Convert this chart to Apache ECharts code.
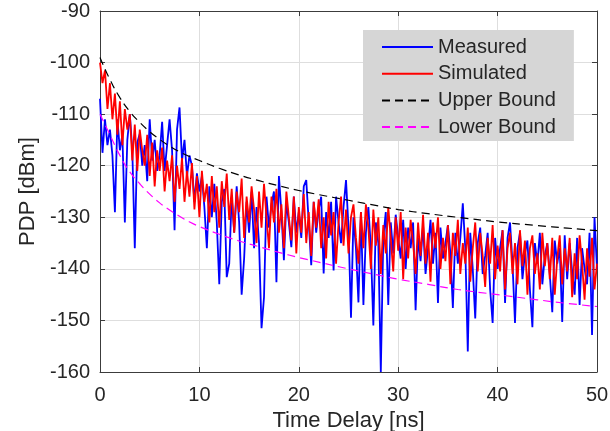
<!DOCTYPE html>
<html><head><meta charset="utf-8">
<script src="https://cdn.jsdelivr.net/npm/echarts@6/dist/echarts.min.js"></script>
<style>html,body{margin:0;padding:0;background:#fff}#c{width:610px;height:431px}</style>
</head><body><div id="c"></div>
<script>
// sampling step of the delay axis (ns)
const DT = 0.25;

const measured = [
-107,-117.5,-111,-116, -113,-118,-129,-111, -117,-114,-131,-115, -110,-117,-136,-115.5,
-113.8,-120,-116,-123, -111,-119,-115,-121, -118,-111.5,-121,-116, -111,-117,-132.5,-113,
-108.7,-119,-115,-122, -118,-120,-127,-121.5, -125,-122,-128,-136, -124,-130,-123.5,-131,
-143,-127,-124.5,-141.6, -139,-126,-133,-124, -131,-145,-138,-127, -133,-125,-136,-128,
-135,-151.5,-145.5,-126, -132,-127.5,-125,-142.6, -122,-129,-138.3,-127, -131,-135.8,-126,-133,
-129,-134,-124,-122.8, -131,-139.3,-127,-133, -128.5,-126,-140.9,-129, -134,-127,-140.3,-126,
-131,-135,-128,-122.8, -132,-149.5,-130,-136, -146.5,-129,-147,-133, -128,-136,-151,-131,
-135,-160,-134,-129, -147,-131,-137,-129.5, -134,-138,-130.5,-140, -132,-136,-131,-148,
-134,-138.5,-131.5,-141, -136,-130.5,-139,-133, -146.6,-132,-138,-135, -131.5,-137,-147.6,-133,
-139,-134,-127.3,-136, -156,-133,-140,-149.6, -135,-132,-141,-137.5, -133,-144,-150.5,-134,
-140,-136,-132.5,-146.6, -134,-131,-139,-150.5, -136,-133,-142,-137, -134.5,-144,-151.3,-135,
-139,-133,-143,-137.5, -135,-141,-148.4,-134.5, -139,-136,-150.3,-133.5, -142,-135,-140.5,-145,
-134,-147,-136,-140, -143,-133,-152.8,-130,
-140
];

const simulated = [
-100,-104,-101.5,-109, -104,-111,-106,-114, -107.5,-116,-109,-113, -110,-119,-112,-121,
-113,-117,-120,-114, -122,-115.5,-124,-117, -121,-116.5,-125,-119, -123,-118,-127,-120,
-124.5,-118.5,-127,-121, -126,-119.5,-128.5,-122, -130,-121,-127,-123.5, -131,-122,-129,-124,
-132,-123,-128,-121.5, -130.5,-124.5,-133,-125, -129,-122.5,-134,-126, -131,-124,-128.5,-135,
-125,-132,-123.5,-130, -136,-126,-131,-124.5, -133,-127.5,-136,-125, -130,-134.5,-126,-137,
-128,-133,-125.5,-135, -129,-137.5,-127,-132, -126.5,-136,-130,-138, -127,-133.5,-129,-139,
-131,-126,-135.5,-128.5, -137,-130,-127.5,-134, -139,-129,-136,-127.5, -132,-140,-128.5,-135.5,
-130,-141,-131.5,-137, -128,-134,-140.5,-130, -136.5,-129,-142,-132, -138,-130.5,-135,-141,
-131,-137.5,-129.5,-139, -133,-142.5,-131,-136, -130,-140,-134,-138.5, -131.5,-143,-133,-137.5,
-130.5,-141,-135,-139, -132,-142.5,-136,-131, -140.5,-133,-137.5,-143.5, -134,-139,-131.5,-142,
-135.5,-140.5,-132.5,-144, -136,-133,-141,-135, -143,-132.5,-139.5,-134.5, -145,-136,-133.5,-141,
-137,-144,-133,-139.5, -135,-142,-134,-145, -138,-133.5,-143,-136, -140.5,-134,-145.5,-137,
-142,-133.5,-139,-146, -136,-141.5,-134,-144,
-139
];

const boundTime  = [0,1,2,3,4,5,6,7,8,9,10,12,14,16,18,20,22,25,28,30,33,36,40,44,47,50];
const upperBound = [-99,-103.3,-106.8,-109.5,-111.6,-113.4,-114.9,-116.2,-117.3,-118.2,-119,-120.5,-121.8,-122.9,-123.9,-124.8,-125.6,-126.7,-127.8,-128.5,-129.3,-130,-130.9,-131.6,-132.1,-132.6];
const lowerBound = [-110,-114,-118,-121.2,-123.5,-125.5,-127.2,-128.6,-129.8,-130.9,-131.8,-133.3,-134.6,-135.7,-136.8,-137.8,-138.7,-140,-141.2,-142,-143,-144,-145,-146,-146.7,-147.3];

const xTicks = [0, 10, 20, 30, 40, 50];
const yTicks = [-160, -150, -140, -130, -120, -110, -100, -90];

const FONT = 'Liberation Sans, Arial, Helvetica, sans-serif';
const TXT = '#262626';
const AX = '#3c3c3c';

const pair = (ts, vs) => vs.map((v, i) => [ts[i], v]);
const seqT = measured.map((_, i) => i * DT);

const chart = echarts.init(document.getElementById('c'), null, {renderer: 'canvas'});

const baseX = {
  type: 'value', min: xTicks[0], max: xTicks[xTicks.length - 1], interval: 10,
  axisLine: {show: true, onZero: false, lineStyle: {color: AX, width: 1}},
  axisTick: {show: true, inside: true, length: 5, lineStyle: {color: AX}},
};
const baseY = {
  type: 'value', min: yTicks[0], max: yTicks[yTicks.length - 1], interval: 10,
  axisLine: {show: true, onZero: false, lineStyle: {color: AX, width: 1}},
  axisTick: {show: true, inside: true, length: 5, lineStyle: {color: AX}},
};

chart.setOption({
  animation: false,
  backgroundColor: '#ffffff',
  grid: {left: 100, right: 13, top: 11, bottom: 59, containLabel: false, outerBoundsMode: 'none'},
  legend: {
    orient: 'vertical', left: 363, top: 30,
    padding: [7, 18, 4, 18],
    backgroundColor: '#d6d6d6',
    borderWidth: 0,
    itemWidth: 51, itemHeight: 14, itemGap: 6.7,
    itemStyle: {color: 'transparent', borderColor: 'transparent', borderWidth: 0, opacity: 0},
    textStyle: {fontFamily: FONT, fontSize: 20, color: TXT, lineHeight: 20},
    data: ['Measured', 'Simulated', 'Upper Bound', 'Lower Bound']
  },
  xAxis: [
    Object.assign({}, baseX, {
      position: 'bottom',
      name: 'Time Delay [ns]', nameLocation: 'middle', nameGap: 35,
      nameTextStyle: {fontFamily: FONT, fontSize: 22, color: TXT},
      axisLabel: {fontFamily: FONT, fontSize: 20, color: TXT, margin: 13},
      splitLine: {show: true, lineStyle: {color: '#dedede', width: 1}}
    }),
    Object.assign({}, baseX, {
      position: 'top', axisLabel: {show: false}, splitLine: {show: false}
    })
  ],
  yAxis: [
    Object.assign({}, baseY, {
      position: 'left',
      name: 'PDP [dBm]', nameLocation: 'middle', nameGap: 52,
      nameTextStyle: {fontFamily: FONT, fontSize: 22, color: TXT},
      axisLabel: {fontFamily: FONT, fontSize: 20, color: TXT, margin: 10},
      splitLine: {show: true, lineStyle: {color: '#dedede', width: 1}}
    }),
    Object.assign({}, baseY, {
      position: 'right', axisLabel: {show: false}, splitLine: {show: false}
    })
  ],
  series: [
    {name: 'Measured', type: 'line', data: pair(seqT, measured), symbol: 'none',
     lineStyle: {color: '#0000ff', width: 1.8}, itemStyle: {color: '#0000ff'}, clip: true},
    {name: 'Simulated', type: 'line', data: pair(seqT, simulated), symbol: 'none',
     lineStyle: {color: '#ff0000', width: 1.8}, itemStyle: {color: '#ff0000'}, clip: true},
    {name: 'Upper Bound', type: 'line', data: pair(boundTime, upperBound), symbol: 'none', smooth: true,
     lineStyle: {color: '#000000', width: 1.2, type: [8, 5]}, itemStyle: {color: '#000000'}},
    {name: 'Lower Bound', type: 'line', data: pair(boundTime, lowerBound), symbol: 'none', smooth: true,
     lineStyle: {color: '#ff00ff', width: 1.2, type: [8, 5]}, itemStyle: {color: '#ff00ff'}}
  ]
});
</script>
</body></html>
